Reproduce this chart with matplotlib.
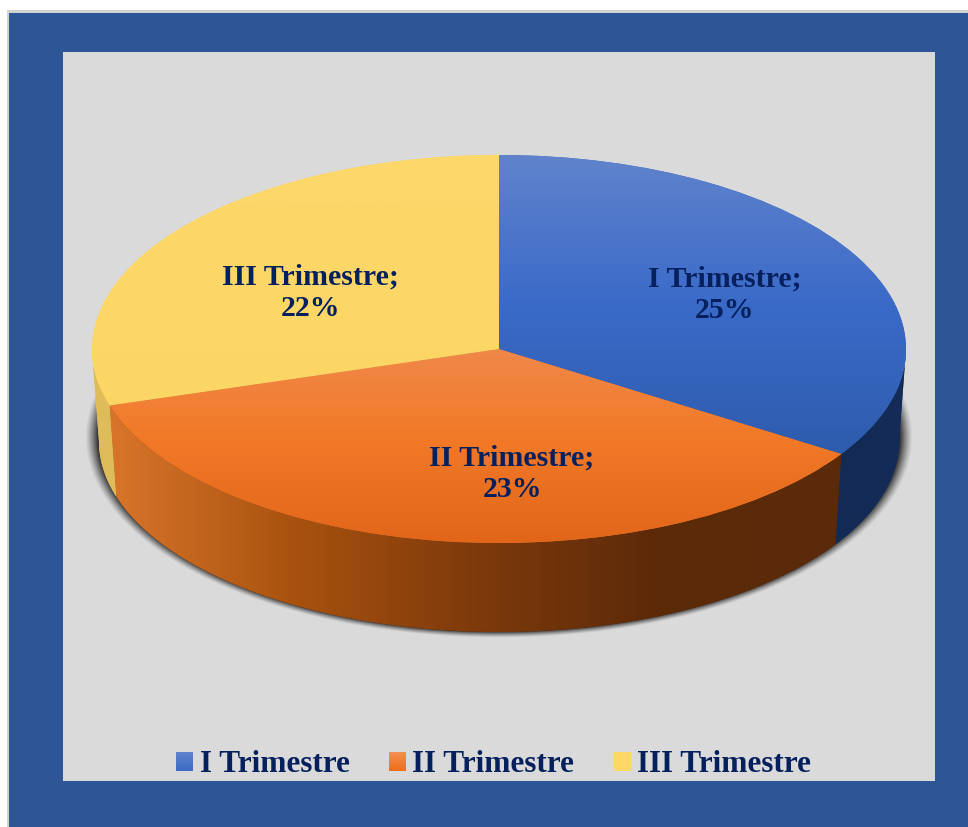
import numpy as np
import matplotlib
matplotlib.use("Agg")
import matplotlib.pyplot as plt
from matplotlib.colors import LinearSegmentedColormap
from matplotlib.legend_handler import HandlerBase
from matplotlib.patches import Patch, Polygon, Rectangle

categorias = ["I Trimestre", "II Trimestre", "III Trimestre"]
# slice sizes as they are drawn in the picture (the printed % do not match them)
areas = [34.1, 36.2, 29.7]
porcentajes = ["25%", "23%", "22%"]

colores_arriba = [["#2d5cad", "#3a6ac8", "#6083cc"],
                  ["#e2661a", "#f27a28", "#ef8c54"],
                  ["#fbd664", "#fcd766", "#fcd86a"]]
limites_arriba = [(-0.55, 1), (-1, 0.12), (-1, 1)]
colores_lado = [["#132a55", "#152c58"],
                ["#d8752a", "#a8520f", "#7e3a0c", "#5c2a09", "#5a2b0b"],
                ["#dfbc5a", "#dfbc5a"]]
colores_leyenda = [["#3b6bc4", "#5f82cc"], ["#ee6f1a", "#f68c50"], ["#fdd865", "#fdd865"]]
pos_textos = [(725, 295), (512, 474), (310, 293)]

W, H = 968, 827
AZUL_TEXTO = "#06205e"
FUENTE = "Liberation Serif"


def px_rect(x0, y0, x1, y1, color):
    fig.add_artist(Rectangle((x0 / W, 1 - y1 / H), (x1 - x0) / W, (y1 - y0) / H,
                             transform=fig.transFigure, facecolor=color,
                             edgecolor="none", zorder=-1))


def pinta_gradiente(patch, colores, horizontal, extent):
    cmap = LinearSegmentedColormap.from_list("g", colores)
    g = np.linspace(0, 1, 256)
    g = g.reshape(1, -1) if horizontal else g.reshape(-1, 1)
    im = ax.imshow(g, cmap=cmap, extent=extent, origin="lower", aspect="auto",
                   zorder=patch.get_zorder() + 0.1)
    im.set_clip_path(patch)


class HandlerDegradado(HandlerBase):
    def create_artists(self, legend, orig_handle, xdescent, ydescent, width, height, fontsize, trans):
        cmap = LinearSegmentedColormap.from_list("l", orig_handle.colores)
        tiras = []
        for i in range(14):
            tiras.append(Rectangle((-xdescent, -ydescent + height * i / 14), width, height / 14 + 0.3,
                                   facecolor=cmap(i / 13), edgecolor="none", transform=trans))
        return tiras


fig = plt.figure(figsize=(W / 100, H / 100), dpi=100, facecolor="white")
px_rect(7, 10, W, H, "#d2d2d2")
px_rect(9, 13, W, H, "#2e5596")
px_rect(63, 52, 935, 781, "#dadada")

ax = fig.add_axes([0, 0, 1, 1])
wedges, _ = ax.pie(areas, startangle=90, counterclock=False, radius=1,
                   wedgeprops={"linewidth": 0})
ax.set_aspect("auto")
for w in wedges:
    w.set_zorder(5)

# sombra bajo la tarta
xlim = (-499 / 407, (W - 499) / 407)
ylim = ((349 - H) / 194, 349 / 194)
xx, yy = np.meshgrid(np.linspace(xlim[0], xlim[1], W), np.linspace(ylim[0], ylim[1], H))
r = np.sqrt((xx / 1.018) ** 2 + ((yy + 0.455) / 1.035) ** 2)
sombra = np.zeros((H, W, 4))
sombra[..., 3] = 0.8 * np.clip((1 - r) / 0.032, 0, 1) ** 1.3
ax.imshow(sombra, extent=(*xlim, *ylim), origin="lower", aspect="auto", zorder=1)

# paredes laterales, la elipse de abajo es un poco mas chica
fin = 90 - np.cumsum(areas) / np.sum(areas) * 360
ini = np.r_[90, fin[:-1]]
for i in range(len(areas)):
    t1 = max(fin[i], -180)
    t2 = min(ini[i], 0)
    t = np.radians(np.linspace(t1, t2, 120))
    arriba = np.c_[np.cos(t), np.sin(t)]
    abajo = np.c_[0.983 * np.cos(t), -0.474 + 0.985 * np.sin(t)]
    pared = Polygon(np.r_[arriba, abajo[::-1]], closed=True, facecolor=colores_lado[i][-1],
                    edgecolor="none", zorder=3)
    ax.add_patch(pared)
    x0 = min(abajo[:, 0].min(), arriba[:, 0].min())
    x1 = max(abajo[:, 0].max(), arriba[:, 0].max())
    pinta_gradiente(pared, colores_lado[i], True, (x0, x1, -1.6, 0.1))

for i, w in enumerate(wedges):
    w.set_facecolor(colores_arriba[i][1])
    pinta_gradiente(w, colores_arriba[i], False, (-1, 1, *limites_arriba[i]))

ax.set_xlim(xlim)
ax.set_ylim(ylim)
ax.axis("off")

for cat, pct, (x, y) in zip(categorias, porcentajes, pos_textos):
    fig.text(x / W, 1 - y / H, f"{cat};\n{pct}", ha="center", va="center", multialignment="center",
             family=FUENTE, weight="bold", fontsize=21.5, color=AZUL_TEXTO, linespacing=1.2, zorder=5)

handles = []
for cat, c in zip(categorias, colores_leyenda):
    h = Patch(label=cat)
    h.colores = c
    handles.append(h)
leg = fig.legend(handles=handles, loc="center", bbox_to_anchor=(493.5 / W, 1 - 765 / H),
                 bbox_transform=fig.transFigure, ncol=3, frameon=False,
                 handler_map={Patch: HandlerDegradado()},
                 prop={"family": FUENTE, "weight": "bold", "size": 22.5},
                 labelcolor=AZUL_TEXTO, borderpad=0, borderaxespad=0, handlelength=0.55,
                 handleheight=0.55, handletextpad=0.2, columnspacing=1.26)

fig.savefig("out.png", dpi=100)
